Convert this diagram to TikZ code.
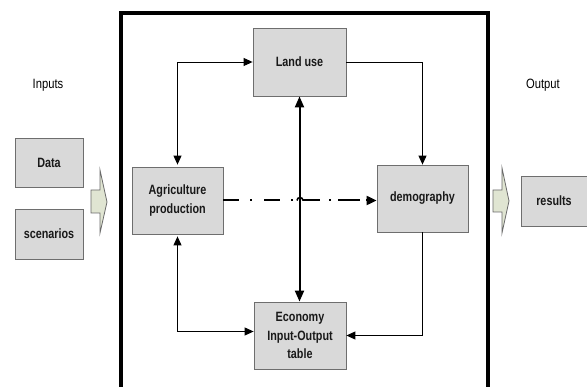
\documentclass[tikz,border=0pt]{standalone}
\usepackage{fontspec}
\setmainfont{Liberation Sans}
\newfontfamily\boxfont{Liberation Sans Bold}[FakeStretch=0.8]
\newfontfamily\lblfont{Liberation Sans}[FakeStretch=0.83]
\usetikzlibrary{arrows.meta,calc}
\definecolor{boxgray}{HTML}{D9D9D9}
\definecolor{boxedge}{HTML}{6E6E6E}
\definecolor{arrfill}{HTML}{E0E5D2}
\definecolor{arredge}{HTML}{6A6A6A}
\tikzset{
  box/.style={draw=boxedge, line width=0.8pt, fill=boxgray, align=center, inner sep=0pt,
    font=\boxfont\fontsize{13.5}{18.5}\selectfont, text=black!90},
  lbl/.style={font=\lblfont\fontsize{13.5}{15}\selectfont, inner sep=0pt},
  conn/.style={line width=0.9pt, -{Triangle[length=9pt,width=8pt]}},
  conn2/.style={line width=0.9pt, {Triangle[length=9pt,width=8pt]}-{Triangle[length=9pt,width=8pt]}},
  thick2/.style={line width=2pt, {Triangle[length=11pt,width=9pt]}-{Triangle[length=11pt,width=9pt]}},
  blockarrow/.style={draw=arredge, line width=0.8pt, fill=arrfill, line join=miter},
  dashdot/.style={line width=2pt},
}
\begin{document}
\begin{tikzpicture}[x=1pt,y=-1pt]
\useasboundingbox (0,0) rectangle (587,387);
\clip (0,0) rectangle (587,387);
\fill[white] (0,0) rectangle (587,387);
% frame
\draw[line width=3.2pt] (121,13) rectangle (488,420);
% boxes
\node[box, minimum width=93pt, minimum height=68pt] (land) at (299.5,62) {Land use};
\node[box, minimum width=91pt, minimum height=67pt] (agri) at (177.5,200.5) {Agriculture\\production};
\node[box, minimum width=91pt, minimum height=67pt] (demo) at (422.5,198.5) {demography};
\node[box, minimum width=92pt, minimum height=67pt] (econ) at (300,335.5) {Economy\\Input-Output\\table};
\node[box, minimum width=68pt, minimum height=49pt] (data) at (49,162.5) {Data};
\node[box, minimum width=68pt, minimum height=50pt] (scen) at (49,234) {scenarios};
\node[box, minimum width=66pt, minimum height=50pt] (res) at (554,201) {results};
% labels
\node[lbl] (inp) at (48,85) {Inputs};
\node[lbl] (outp) at (543,85) {Output};
% block arrows
\draw[blockarrow] (91,190) -- (100,190) -- (100,170) -- (107,202) -- (100,233) -- (100,213) -- (91,213) -- cycle;
\draw[blockarrow] (493,190) -- (502,190) -- (502,168) -- (509,201) -- (502,233) -- (502,212) -- (493,212) -- cycle;
% connectors
\draw[conn2] ([yshift=2pt]agri.north) |- (land.west);
\draw[conn] (land.east) -| (demo.north);
\draw[thick2] (land.south) -- (land.south |- econ.north);
\draw[conn2] ([yshift=-2pt]agri.south) |- ([yshift=4pt]econ.west);
\draw[conn] (demo.south) |- (econ.east);
% dash-dot link with a small hop over the vertical arrow
\coordinate (hopL) at (297,200.5);
\coordinate (hopR) at (303,200.5);
\draw[dashdot, dash pattern=on 16pt off 11pt on 2pt off 12pt on 16pt off 11pt on 2pt off 20pt] (agri.east) -- (hopL);
\draw[line width=1.6pt] (hopL) arc[start angle=180, end angle=0, radius=3pt];
\draw[dashdot, dash pattern=on 17pt off 9pt on 2pt off 7pt on 22pt off 6pt on 40pt, -{Triangle[length=10pt,width=9pt]}] (hopR) -- (demo.west |- agri.east);
\end{tikzpicture}
\end{document}
